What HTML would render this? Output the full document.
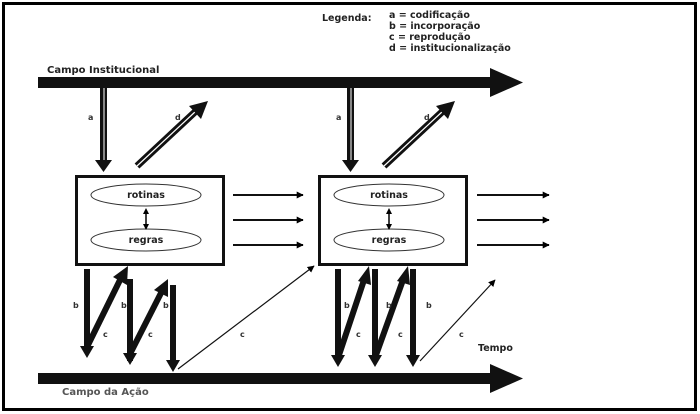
<!DOCTYPE html>
<html><head><meta charset="utf-8"><style>
html,body{margin:0;padding:0;background:#fff;}
svg{display:block;font-family:"DejaVu Sans","Liberation Sans",sans-serif;}
</style></head><body>
<svg width="700" height="414" viewBox="0 0 700 414" xmlns="http://www.w3.org/2000/svg">
<defs>
<marker id="thin" viewBox="0 0 10 10" refX="9" refY="5" markerWidth="7" markerHeight="7" orient="auto" markerUnits="userSpaceOnUse"><path d="M0,0 L10,5 L0,10 z" fill="#000"/></marker>
<marker id="tiny" viewBox="0 0 10 10" refX="5" refY="5" markerWidth="6" markerHeight="6" orient="auto-start-reverse" markerUnits="userSpaceOnUse"><path d="M0,0 L10,5 L0,10 z" fill="#000"/></marker>
</defs>
<rect x="3.5" y="3.5" width="692" height="406" fill="none" stroke="#000" stroke-width="3"/>
<!-- legend -->
<g font-size="9.5" font-weight="bold" fill="#222">
<text x="322" y="21">Legenda:</text>
<text x="389" y="18">a = codificação</text>
<text x="389" y="29">b = incorporação</text>
<text x="389" y="40">c = reprodução</text>
<text x="389" y="51">d = institucionalização</text>
</g>
<!-- top bar -->
<text x="47" y="73" font-size="10" font-weight="bold" fill="#222">Campo Institucional</text>
<rect x="38" y="77" width="455" height="11" fill="#111"/>
<path d="M490,68 L523,82.5 L490,97 z" fill="#111"/>
<!-- bottom bar -->
<rect x="38" y="373" width="455" height="11" fill="#111"/>
<path d="M490,364 L523,378.5 L490,393 z" fill="#111"/>
<text x="62" y="395" font-size="10" font-weight="bold" fill="#555">Campo da Ação</text>
<text x="478" y="351" font-size="9.5" font-weight="bold" fill="#222">Tempo</text>
<!-- boxes -->
<g fill="none" stroke="#111" stroke-width="3">
<rect x="76.5" y="176.5" width="147" height="88"/>
<rect x="319.5" y="176.5" width="147" height="88"/>
</g>
<g fill="none" stroke="#333" stroke-width="1">
<ellipse cx="146" cy="195" rx="55" ry="11"/>
<ellipse cx="146" cy="240" rx="55" ry="11"/>
<ellipse cx="389" cy="195" rx="55" ry="11"/>
<ellipse cx="389" cy="240" rx="55" ry="11"/>
</g>
<g font-size="9.5" font-weight="bold" fill="#222" text-anchor="middle">
<text x="146" y="198">rotinas</text><text x="146" y="243">regras</text>
<text x="389" y="198">rotinas</text><text x="389" y="243">regras</text>
</g>
<g stroke="#000" stroke-width="1.5">
<line x1="146" y1="211" x2="146" y2="227" marker-start="url(#tiny)" marker-end="url(#tiny)"/>
<line x1="389" y1="211" x2="389" y2="227" marker-start="url(#tiny)" marker-end="url(#tiny)"/>
</g>
<!-- horizontal arrows -->
<g stroke="#111" stroke-width="2">
<line x1="233" y1="195" x2="303" y2="195" marker-end="url(#thin)"/>
<line x1="233" y1="220" x2="303" y2="220" marker-end="url(#thin)"/>
<line x1="233" y1="245" x2="303" y2="245" marker-end="url(#thin)"/>
<line x1="477" y1="195" x2="549" y2="195" marker-end="url(#thin)"/>
<line x1="477" y1="220" x2="549" y2="220" marker-end="url(#thin)"/>
<line x1="477" y1="245" x2="549" y2="245" marker-end="url(#thin)"/>
</g>
<!-- a arrows -->
<g>
<rect x="100" y="88" width="7" height="76" fill="#111"/><line x1="104" y1="88" x2="104" y2="160" stroke="#fff" stroke-width="1"/>
<path d="M95,160 L112,160 L103.5,172 z" fill="#111"/>
<rect x="347" y="88" width="7" height="76" fill="#111"/><line x1="351" y1="88" x2="351" y2="160" stroke="#fff" stroke-width="1"/>
<path d="M342,160 L359,160 L350.5,172 z" fill="#111"/>
</g>
<text x="88" y="120" font-size="8" font-weight="bold" fill="#333">a</text>
<text x="336" y="120" font-size="8" font-weight="bold" fill="#333">a</text>
<!-- d arrows -->
<g stroke-linecap="butt">
<line x1="137" y1="166" x2="196" y2="111" stroke="#111" stroke-width="7"/>
<line x1="137" y1="166" x2="196" y2="111" stroke="#fff" stroke-width="1.2"/>
<path d="M189,106 L208,101 L201,119 z" fill="#111"/>
<line x1="384" y1="166" x2="443" y2="111" stroke="#111" stroke-width="7"/>
<line x1="384" y1="166" x2="443" y2="111" stroke="#fff" stroke-width="1.2"/>
<path d="M436,106 L455,101 L448,119 z" fill="#111"/>
</g>
<text x="175" y="120" font-size="8" font-weight="bold" fill="#333">d</text>
<text x="424" y="120" font-size="8" font-weight="bold" fill="#333">d</text>
<!-- b/c arrows box1 -->
<g fill="#111">
<rect x="84" y="269" width="6" height="80"/><path d="M80,346 L94,346 L87,358 z"/>
<rect x="127" y="279" width="6" height="82"/><path d="M123,358 L137,358 L130,370 z" transform="translate(0,-5)"/>
<rect x="170" y="285" width="6" height="76"/><path d="M166,360 L180,360 L173,372 z"/>
<rect x="335" y="269" width="6" height="88"/><path d="M331,355 L345,355 L338,367 z"/>
<rect x="372" y="269" width="6" height="88"/><path d="M368,355 L382,355 L375,367 z"/>
<rect x="410" y="269" width="6" height="88"/><path d="M406,355 L420,355 L413,367 z"/>
</g>
<g stroke="#111" stroke-width="6">
<line x1="88" y1="345" x2="120" y2="280"/>
<line x1="131" y1="352" x2="161" y2="293"/>
<line x1="339" y1="355" x2="364" y2="280"/>
<line x1="376" y1="355" x2="403" y2="280"/>
</g>
<g fill="#111">
<path d="M113,277 L128,266 L127,285 z"/>
<path d="M154,290 L168,279 L168,297 z"/>
<path d="M358,281 L369,266 L371,285 z"/>
<path d="M397,281 L408,266 L410,285 z"/>
</g>
<g stroke="#111" stroke-width="1.2">
<line x1="178" y1="369" x2="314" y2="266" marker-end="url(#thin)"/>
<line x1="420" y1="361" x2="495" y2="280" marker-end="url(#thin)"/>
</g>
<g font-size="8" font-weight="bold" fill="#333">
<text x="73" y="308">b</text><text x="121" y="308">b</text><text x="163" y="308">b</text>
<text x="103" y="337">c</text><text x="148" y="337">c</text><text x="240" y="337">c</text>
<text x="344" y="308">b</text><text x="386" y="308">b</text><text x="426" y="308">b</text>
<text x="356" y="337">c</text><text x="398" y="337">c</text><text x="459" y="337">c</text>
</g>
</svg>
</body></html>
